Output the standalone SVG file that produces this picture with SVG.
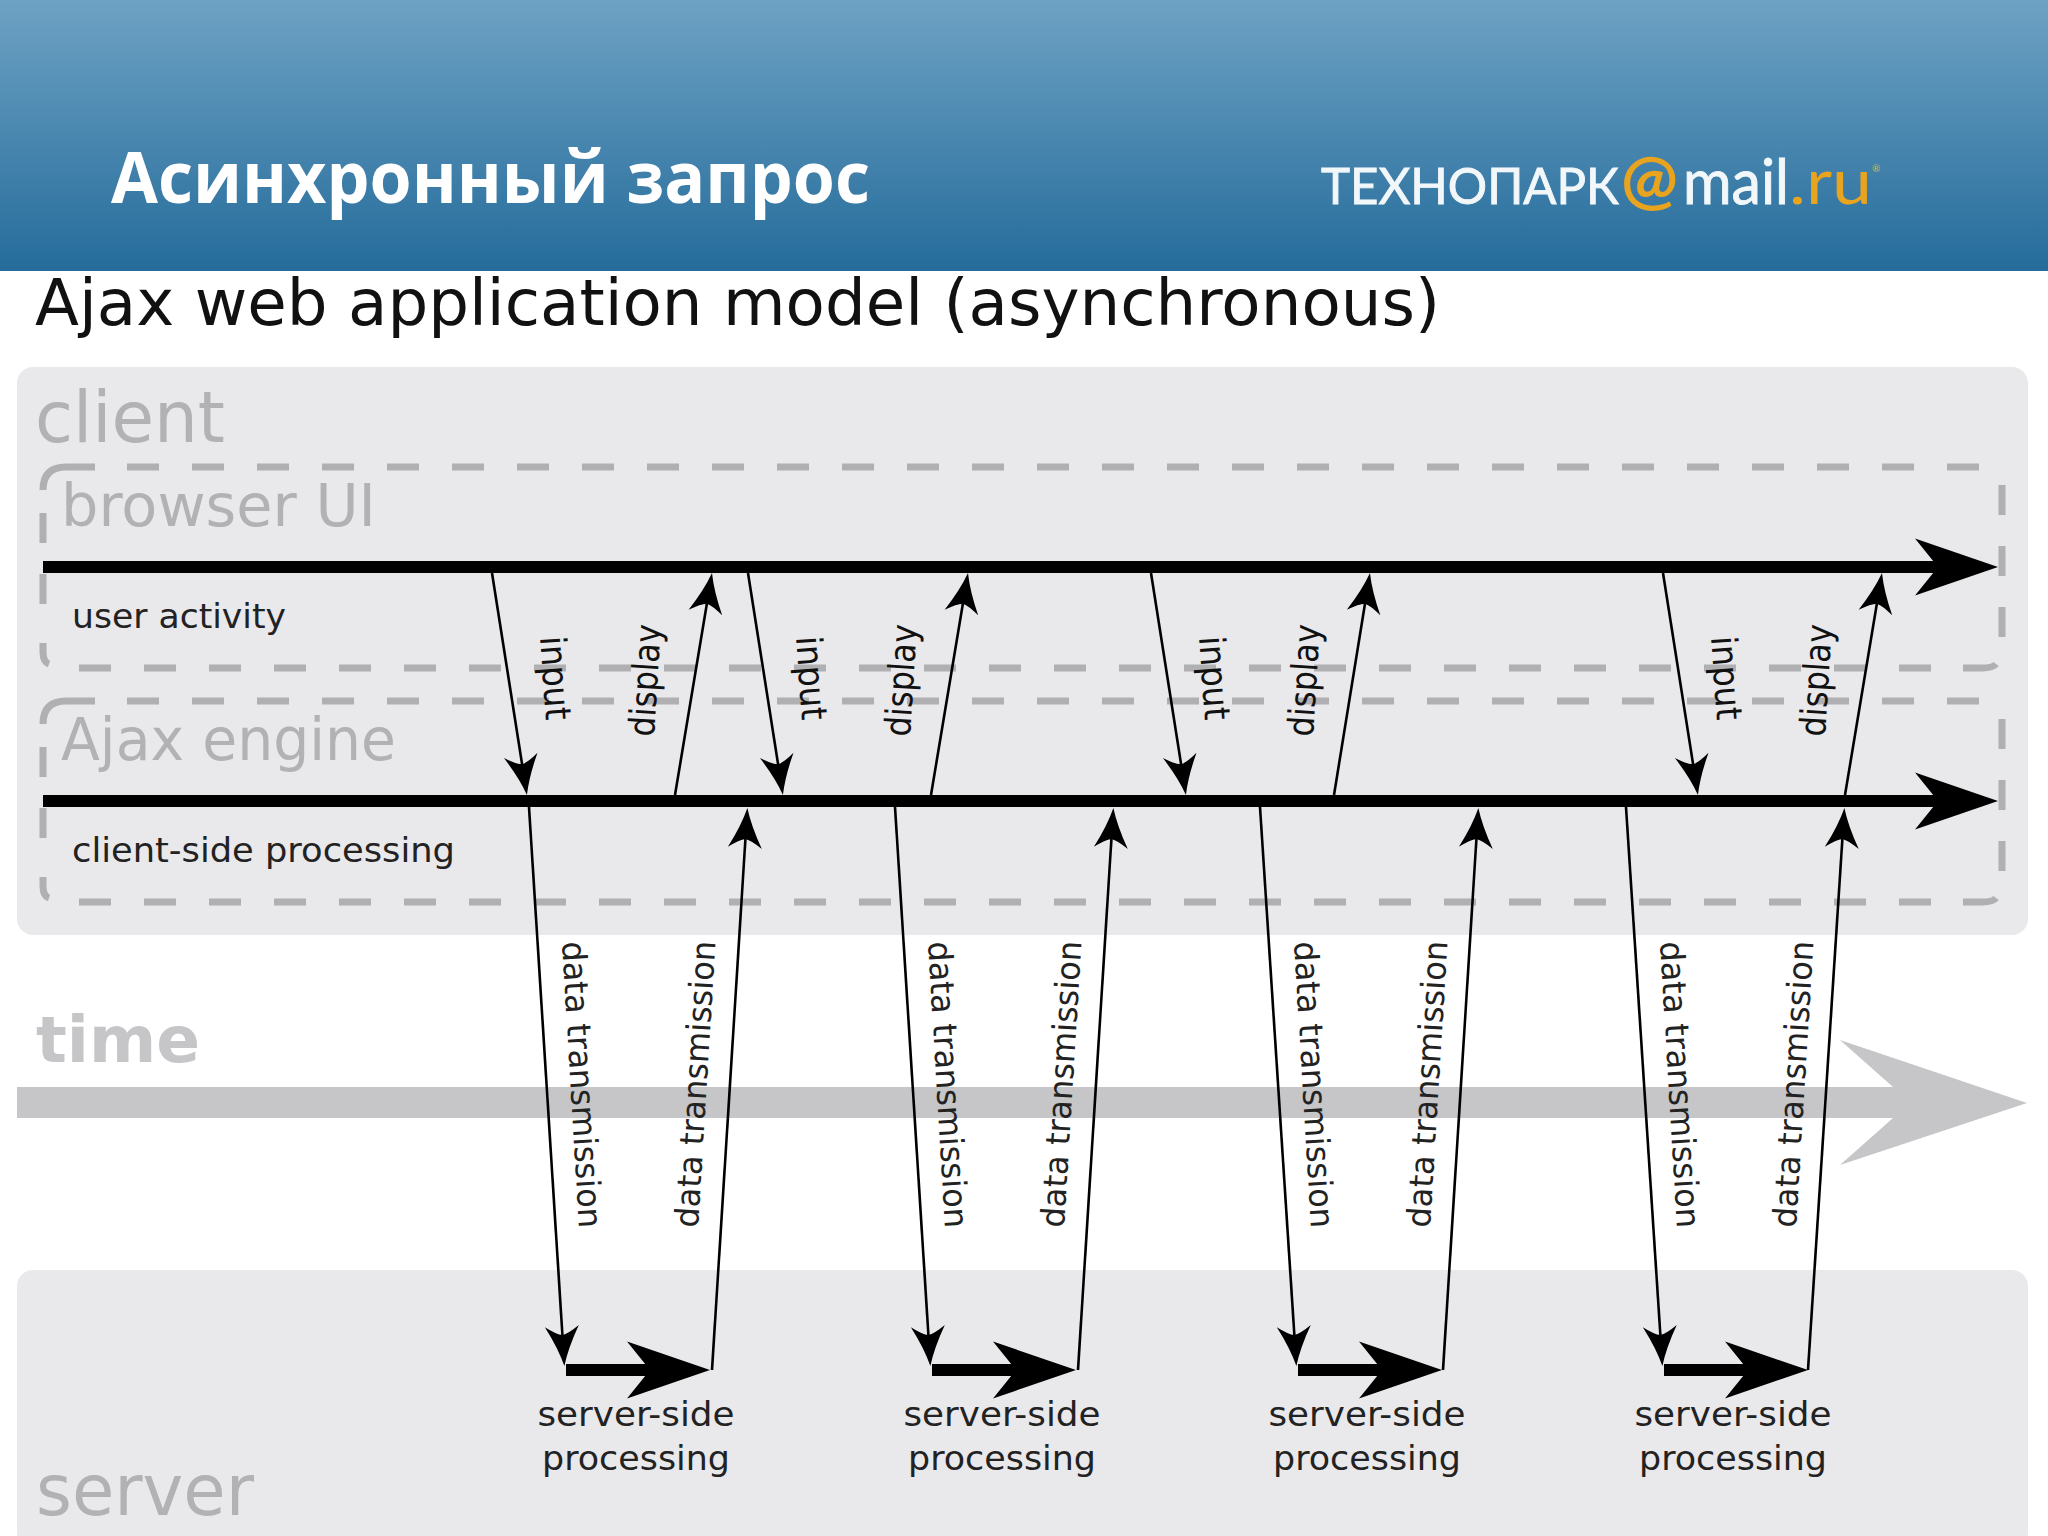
<svg xmlns="http://www.w3.org/2000/svg" xmlns:xlink="http://www.w3.org/1999/xlink" width="2048" height="1536" viewBox="0 0 2048 1536">
<style>
text{font-family:"DejaVu Sans",sans-serif}
.panel{fill:#e9e8eb}
.dash{fill:none;stroke:#b0afb2;stroke-width:7}
.h{stroke-dasharray:32 33}
.v{stroke-dasharray:30 31}
.big{font-size:72px;fill:#b2b1b4}
.mid{font-size:58px;fill:#b2b1b4}
.lbl{font-size:33px;fill:#222}
.sm{font-size:36px;fill:#111}
.thin{stroke:#000;stroke-width:2.6;fill:none;marker-end:url(#thinHead)}
.thick{stroke:#000;stroke-width:12;fill:none;marker-end:url(#bigHead)}
.logo{font-family:Lato,"Noto Sans",sans-serif;font-size:50px;stroke-width:.9}
</style>
<defs>
<linearGradient id="bannerGrad" x1="0" y1="0" x2="0" y2="1">
<stop offset="0" stop-color="#6ea2c4"/><stop offset="1" stop-color="#256c9b"/>
</linearGradient>
<marker id="thinHead" markerUnits="userSpaceOnUse" viewBox="-40 -20 50 40" refX="0" refY="0" markerWidth="50" markerHeight="40" orient="auto">
<path d="M6,0 Q-12,-5 -34,-17 Q-26,-6 -25,0 Q-26,6 -34,17 Q-12,5 6,0 Z" fill="#000"/>
</marker>
<marker id="bigHead" markerUnits="userSpaceOnUse" viewBox="-40 -35 95 70" refX="0" refY="0" markerWidth="95" markerHeight="70" orient="auto">
<path d="M50,0 L-33,-28.5 L-10,0 L-33,28.5 Z" fill="#000"/>
</marker>
<g id="dashBox">
<path class="dash" d="M43,490 Q43,467 66,467 H95"/>
<path class="dash h" d="M127,467 H1985"/>
<path class="dash v" d="M43,513 V610"/>
<path class="dash" d="M43,643 V652 Q43,662 49,664"/>
<path class="dash v" d="M2002,485 V640"/>
<path class="dash h" d="M79,668 H1960"/>
<path class="dash" d="M1963,668 H1982 Q1993,668 1996,664"/>
</g>
</defs>

<g id="banner">
<rect x="0" y="0" width="2048" height="271" fill="url(#bannerGrad)"/>
<text x="111" y="203" font-size="72" font-weight="700" fill="#fff" textLength="759" lengthAdjust="spacingAndGlyphs" style="font-family:'Open Sans',sans-serif">Асинхронный запрос</text>
</g>
<g id="logo">
<text class="logo" x="1321" y="204" fill="#f2f7fa" stroke="#f2f7fa" textLength="298" lengthAdjust="spacingAndGlyphs">ТЕХНОПАРК</text>
<text class="logo" x="1621" y="203" fill="#e8a31f" font-weight="700" textLength="57" lengthAdjust="spacingAndGlyphs" style="font-size:66px">@</text>
<text class="logo" x="1683" y="204" fill="#f2f7fa" stroke="#f2f7fa" style="font-size:62px" textLength="106" lengthAdjust="spacingAndGlyphs">mail</text>
<text class="logo" x="1789" y="204" fill="#e8a31f" style="font-size:62px" textLength="83" lengthAdjust="spacingAndGlyphs">.ru</text>
<text class="logo" x="1872" y="172" fill="#d9b560" style="font-size:10px">®</text>
</g>
<text id="title" x="35" y="325" font-size="64" fill="#111" textLength="1405" lengthAdjust="spacingAndGlyphs">Ajax web application model (asynchronous)</text>

<g id="client">
<rect class="panel" x="17" y="367" width="2011" height="568" rx="16"/>
<text class="big" x="35" y="442" textLength="190" lengthAdjust="spacingAndGlyphs">client</text>
</g>
<g id="browser-ui">
<use href="#dashBox"/>
<text class="mid" x="61" y="526" textLength="315" lengthAdjust="spacingAndGlyphs">browser UI</text>
<text class="lbl" x="72" y="628" textLength="214" lengthAdjust="spacingAndGlyphs">user activity</text>
</g>
<g id="ajax-engine">
<use href="#dashBox" y="234"/>
<text class="mid" x="61" y="760" textLength="335" lengthAdjust="spacingAndGlyphs">Ajax engine</text>
<text class="lbl" x="72" y="862" textLength="383" lengthAdjust="spacingAndGlyphs">client-side processing</text>
</g>
<g id="server">
<rect class="panel" x="17" y="1270" width="2011" height="280" rx="16"/>
<text class="big" x="36" y="1515" textLength="218" lengthAdjust="spacingAndGlyphs">server</text>
<g class="lbl" text-anchor="middle">
<text x="636" y="1426" textLength="197" lengthAdjust="spacingAndGlyphs">server-side</text><text x="636" y="1470" textLength="188" lengthAdjust="spacingAndGlyphs">processing</text>
<text x="1002" y="1426" textLength="197" lengthAdjust="spacingAndGlyphs">server-side</text><text x="1002" y="1470" textLength="188" lengthAdjust="spacingAndGlyphs">processing</text>
<text x="1367" y="1426" textLength="197" lengthAdjust="spacingAndGlyphs">server-side</text><text x="1367" y="1470" textLength="188" lengthAdjust="spacingAndGlyphs">processing</text>
<text x="1733" y="1426" textLength="197" lengthAdjust="spacingAndGlyphs">server-side</text><text x="1733" y="1470" textLength="188" lengthAdjust="spacingAndGlyphs">processing</text>
</g>
</g>
<g id="time">
<text x="36" y="1062" font-size="64" font-weight="700" fill="#c6c5c8" textLength="164" lengthAdjust="spacingAndGlyphs">time</text>
<path d="M17,1087 H1893 L1840,1040 L2027,1103 L1840,1165 L1893,1118 H17 Z" fill="#c6c5c8"/>
</g>

<g id="connectors">
<path class="thick" d="M43,567 H1948"/>
<path class="thick" d="M43,801 H1948"/>
<path class="thick" d="M566,1370 H660"/>
<path class="thick" d="M932,1370 H1026"/>
<path class="thick" d="M1298,1370 H1392"/>
<path class="thick" d="M1664,1370 H1758"/>

<path class="thin" d="M492,573 L526,789"/>
<path class="thin" d="M675,795 L711,579"/>
<path class="thin" d="M748,573 L782,789"/>
<path class="thin" d="M931,795 L967,579"/>
<path class="thin" d="M1151,573 L1185,789"/>
<path class="thin" d="M1334,795 L1369,579"/>
<path class="thin" d="M1663,573 L1697,789"/>
<path class="thin" d="M1845,795 L1881,579"/>

<path class="thin" d="M529,807 L564,1360"/>
<path class="thin" d="M712,1370 L747,814"/>
<path class="thin" d="M895,807 L930,1360"/>
<path class="thin" d="M1078,1370 L1113,814"/>
<path class="thin" d="M1260,807 L1296,1360"/>
<path class="thin" d="M1443,1370 L1478,814"/>
<path class="thin" d="M1626,807 L1662,1360"/>
<path class="thin" d="M1808,1370 L1844,814"/>
</g>

<g id="labels">
<g class="sm">
<text transform="translate(540,637) rotate(86)" textLength="84" lengthAdjust="spacingAndGlyphs">input</text>
<text transform="translate(796,637) rotate(86)" textLength="84" lengthAdjust="spacingAndGlyphs">input</text>
<text transform="translate(1199,637) rotate(86)" textLength="84" lengthAdjust="spacingAndGlyphs">input</text>
<text transform="translate(1711,637) rotate(86)" textLength="84" lengthAdjust="spacingAndGlyphs">input</text>
<text transform="translate(654,737) rotate(-86.5)" textLength="112" lengthAdjust="spacingAndGlyphs">display</text>
<text transform="translate(910,737) rotate(-86.5)" textLength="112" lengthAdjust="spacingAndGlyphs">display</text>
<text transform="translate(1313,737) rotate(-86.5)" textLength="112" lengthAdjust="spacingAndGlyphs">display</text>
<text transform="translate(1825,737) rotate(-86.5)" textLength="112" lengthAdjust="spacingAndGlyphs">display</text>
</g>
<g class="lbl">
<text transform="translate(562,942) rotate(86.6)" textLength="287" lengthAdjust="spacingAndGlyphs">data transmission</text>
<text transform="translate(928,942) rotate(86.6)" textLength="287" lengthAdjust="spacingAndGlyphs">data transmission</text>
<text transform="translate(1294,942) rotate(86.6)" textLength="287" lengthAdjust="spacingAndGlyphs">data transmission</text>
<text transform="translate(1660,942) rotate(86.6)" textLength="287" lengthAdjust="spacingAndGlyphs">data transmission</text>
<text transform="translate(698,1228) rotate(-86.5)" textLength="287" lengthAdjust="spacingAndGlyphs">data transmission</text>
<text transform="translate(1064,1228) rotate(-86.5)" textLength="287" lengthAdjust="spacingAndGlyphs">data transmission</text>
<text transform="translate(1430,1228) rotate(-86.5)" textLength="287" lengthAdjust="spacingAndGlyphs">data transmission</text>
<text transform="translate(1796,1228) rotate(-86.5)" textLength="287" lengthAdjust="spacingAndGlyphs">data transmission</text>
</g>
</g>
</svg>
